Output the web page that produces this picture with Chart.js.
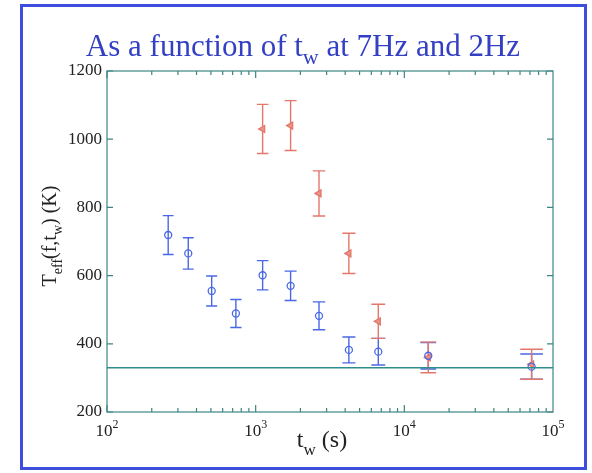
<!DOCTYPE html>
<html>
<head>
<meta charset="utf-8">
<script src="https://cdn.jsdelivr.net/npm/chart.js@4.4.0/dist/chart.umd.min.js"></script>
<style>
  body { margin: 0; background: #fff; }
</style>
</head>
<body>
<canvas id="main_chart" width="592" height="473"></canvas>
<script>
// blue circles
const blueTw = [258, 352, 506, 736, 1114, 1718, 2667, 4236, 6680, 14490, 71800];
const blueTeff = [719, 665, 555, 489, 601, 570, 482, 382, 377, 365, 333];
const blueErr = [57, 46, 44, 41, 43, 43, 41, 38, 39, 39, 37];
// red triangles
const redTw = [1114, 1718, 2667, 4236, 6680, 14490, 71800];
const redTeff = [1030, 1040, 841, 665, 466, 360, 340];
const redErr = [72, 73, 66, 59, 50, 45, 44];
// horizontal reference line
const refTw = [100, 100000];
const refTeff = [330, 330];
const xDecades = [2, 3, 4, 5];
const yTicks = [200, 400, 600, 800, 1000, 1200];

const BLUE = '#4a68e6';
const RED = '#e3776a';
const TEAL = '#2e8e8e';
const AXIS = '#3d8585';
const SERIF = '"Liberation Serif", "DejaVu Serif", serif';

const toPoints = (xs, ys) => xs.map((x, i) => ({ x: x, y: ys[i] }));

// draw text made of normal and subscript parts
function drawParts(ctx, parts, size, subSize, subDrop, cx, baseline) {
  let total = 0;
  parts.forEach(p => {
    ctx.font = `${p[1] ? subSize : size}px ${SERIF}`;
    total += ctx.measureText(p[0]).width;
  });
  let x = cx - total / 2;
  parts.forEach(p => {
    ctx.font = `${p[1] ? subSize : size}px ${SERIF}`;
    ctx.fillText(p[0], x, baseline + (p[1] ? subDrop : 0));
    x += ctx.measureText(p[0]).width;
  });
}

const errorBars = {
  id: 'errorBars',
  beforeDatasetsDraw(chart) {
    const ctx = chart.ctx;
    const xs = chart.scales.x, ys = chart.scales.y;
    chart.data.datasets.forEach(ds => {
      if (!ds.errors) return;
      ctx.save();
      ctx.strokeStyle = ds.borderColor;
      ctx.lineWidth = 1.4;
      ds.data.forEach((p, i) => {
        const px = xs.getPixelForValue(p.x);
        const top = ys.getPixelForValue(p.y + ds.errors[i]);
        const bot = ys.getPixelForValue(p.y - ds.errors[i]);
        // caps get wider towards the right, like the original plot
        const half = 5 + 7.5 * Math.sqrt(p.x / 1e5);
        ctx.beginPath();
        ctx.moveTo(px, top); ctx.lineTo(px, bot);
        ctx.moveTo(px - half, top); ctx.lineTo(px + half, top);
        ctx.moveTo(px - half, bot); ctx.lineTo(px + half, bot);
        ctx.stroke();
      });
      ctx.restore();
    });
  }
};

const axesBox = {
  id: 'axesBox',
  beforeDatasetsDraw(chart) {
    const ctx = chart.ctx;
    const a = chart.chartArea;
    const xs = chart.scales.x, ys = chart.scales.y;
    ctx.save();
    ctx.strokeStyle = AXIS;
    ctx.lineWidth = 1.2;
    ctx.strokeRect(a.left, a.top, a.right - a.left, a.bottom - a.top);
    ctx.beginPath();
    // x ticks, major and minor, inward on bottom and top
    for (let d = 2; d < 5; d++) {
      for (let m = 1; m < 10; m++) {
        const px = xs.getPixelForValue(m * Math.pow(10, d));
        const len = m === 1 ? 7 : 4;
        ctx.moveTo(px, a.bottom); ctx.lineTo(px, a.bottom - len);
        ctx.moveTo(px, a.top); ctx.lineTo(px, a.top + len);
      }
    }
    // y ticks, inward on left and right
    yTicks.forEach(v => {
      const py = ys.getPixelForValue(v);
      ctx.moveTo(a.left, py); ctx.lineTo(a.left + 6, py);
      ctx.moveTo(a.right, py); ctx.lineTo(a.right - 6, py);
    });
    ctx.stroke();
    ctx.restore();
  }
};

const labels = {
  id: 'labels',
  afterDraw(chart) {
    const ctx = chart.ctx;
    const xs = chart.scales.x;
    ctx.save();
    // frame
    ctx.strokeStyle = '#3b4fdc';
    ctx.lineWidth = 3;
    ctx.strokeRect(21.5, 5.5, 564, 463);
    // title
    ctx.fillStyle = '#3340c4';
    ctx.textBaseline = 'alphabetic';
    drawParts(ctx, [['As a function of t', false], ['w', true], [' at 7Hz and 2Hz', false]],
      31, 22, 8, 303, 56);
    // x tick labels 10^n
    ctx.fillStyle = '#222';
    xDecades.forEach(d => {
      const px = xs.getPixelForValue(Math.pow(10, d));
      ctx.font = `17px ${SERIF}`;
      const w1 = ctx.measureText('10').width;
      ctx.font = `12px ${SERIF}`;
      const w2 = ctx.measureText(String(d)).width;
      const x0 = px - (w1 + w2) / 2;
      ctx.font = `17px ${SERIF}`;
      ctx.fillText('10', x0, 436);
      ctx.font = `12px ${SERIF}`;
      ctx.fillText(String(d), x0 + w1, 428);
    });
    // x axis title
    drawParts(ctx, [['t', false], ['w', true], [' (s)', false]], 24, 17, 8, 322, 447);
    // y axis title, rotated
    ctx.translate(56, 236);
    ctx.rotate(-Math.PI / 2);
    drawParts(ctx, [['T', false], ['eff', true], ['(f,t', false], ['w', true], [') (K)', false]],
      20, 14, 6, 0, 0);
    ctx.restore();
  }
};

new Chart(document.getElementById('main_chart'), {
  type: 'scatter',
  data: {
    datasets: [
      {
        label: 'reference',
        type: 'line',
        data: toPoints(refTw, refTeff),
        borderColor: TEAL,
        borderWidth: 1.5,
        pointRadius: 0,
        fill: false
      },
      {
        label: 'blue',
        data: toPoints(blueTw, blueTeff),
        errors: blueErr,
        borderColor: BLUE,
        backgroundColor: 'rgba(255,255,255,0)',
        pointStyle: 'circle',
        pointRadius: 3.5,
        pointBorderWidth: 1.3
      },
      {
        label: 'red',
        data: toPoints(redTw, redTeff),
        errors: redErr,
        borderColor: RED,
        backgroundColor: '#eb9488',
        pointStyle: 'triangle',
        rotation: -90,
        pointRadius: 4,
        pointBorderWidth: 1.3
      }
    ]
  },
  options: {
    responsive: false,
    animation: false,
    devicePixelRatio: 1,
    layout: { padding: { left: 0, top: 71, right: 39, bottom: 0 } },
    plugins: { legend: false, tooltip: { enabled: false } },
    scales: {
      x: {
        type: 'logarithmic',
        min: 100,
        max: 100000,
        ticks: { display: false },
        grid: { display: false, drawTicks: false },
        border: { display: false },
        afterFit: s => { s.height = 61; }
      },
      y: {
        type: 'linear',
        min: 200,
        max: 1200,
        ticks: {
          stepSize: 200,
          padding: 5,
          color: '#222',
          font: { family: SERIF, size: 17 },
          callback: v => String(v)
        },
        grid: { display: false, drawTicks: false },
        border: { display: false },
        afterFit: s => { s.width = 107; }
      }
    }
  },
  plugins: [axesBox, errorBars, labels]
});
</script>
</body>
</html>
